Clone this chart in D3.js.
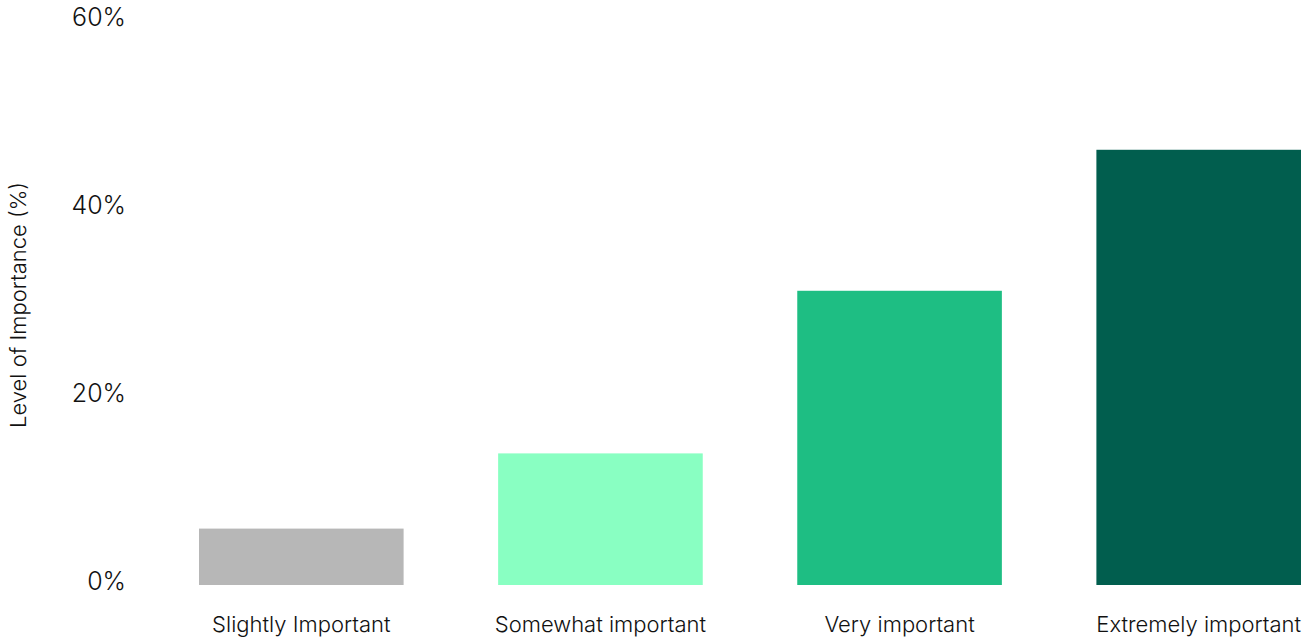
<!DOCTYPE html>
<html><head><meta charset="utf-8">
<script src="https://cdn.jsdelivr.net/npm/d3@7"></script>
<style>body{margin:0;background:#fff;} svg{display:block;} text{font-family:Inter, "Noto Sans", sans-serif;fill:#111;font-weight:300;}</style>
</head><body>
<svg id="chart" width="1308" height="639"></svg>
<script>
const categories = ["Slightly Important", "Somewhat important", "Very important", "Extremely important"];
const values = [6.0, 14.0, 31.3, 46.3];
const colors = ["#b7b7b7", "#89ffc2", "#1ebe83", "#015e4e"];
const tickValues = [0, 20, 40, 60];
const axisTitle = "Level of Importance (%)";

const svg = d3.select("#chart");
const x = d3.scaleBand().domain(categories).range([199, 1301]).paddingInner(0.316).paddingOuter(0);
const y = d3.scaleLinear().domain([0, 60]).range([585, 21]);

svg.append("g").selectAll("rect").data(categories).join("rect")
  .attr("x", d => x(d))
  .attr("width", x.bandwidth())
  .attr("y", (d, i) => y(values[i]))
  .attr("height", (d, i) => y(0) - y(values[i]))
  .attr("fill", (d, i) => colors[i]);

const yAxis = d3.axisLeft(y).tickValues(tickValues).tickFormat(d => d + "%").tickSize(0).tickPadding(0);
const gy = svg.append("g").attr("transform", "translate(126,-4)").call(yAxis);
gy.select(".domain").remove();
gy.selectAll("text").style("font-size", "25px").style("font-family", "Inter, sans-serif").style("font-weight", 300).attr("fill", "#111");

const xAxis = d3.axisBottom(x).tickSize(0).tickPadding(0);
const gx = svg.append("g").attr("transform", "translate(0,616)").call(xAxis);
gx.select(".domain").remove();
gx.selectAll("text").style("font-size", "22px").style("font-family", "Inter, sans-serif").style("font-weight", 300).attr("fill", "#111");

svg.append("text")
  .attr("transform", "translate(26,305) rotate(-90)")
  .attr("text-anchor", "middle")
  .style("font-size", "22px")
  .text(axisTitle);
</script>
</body></html>
